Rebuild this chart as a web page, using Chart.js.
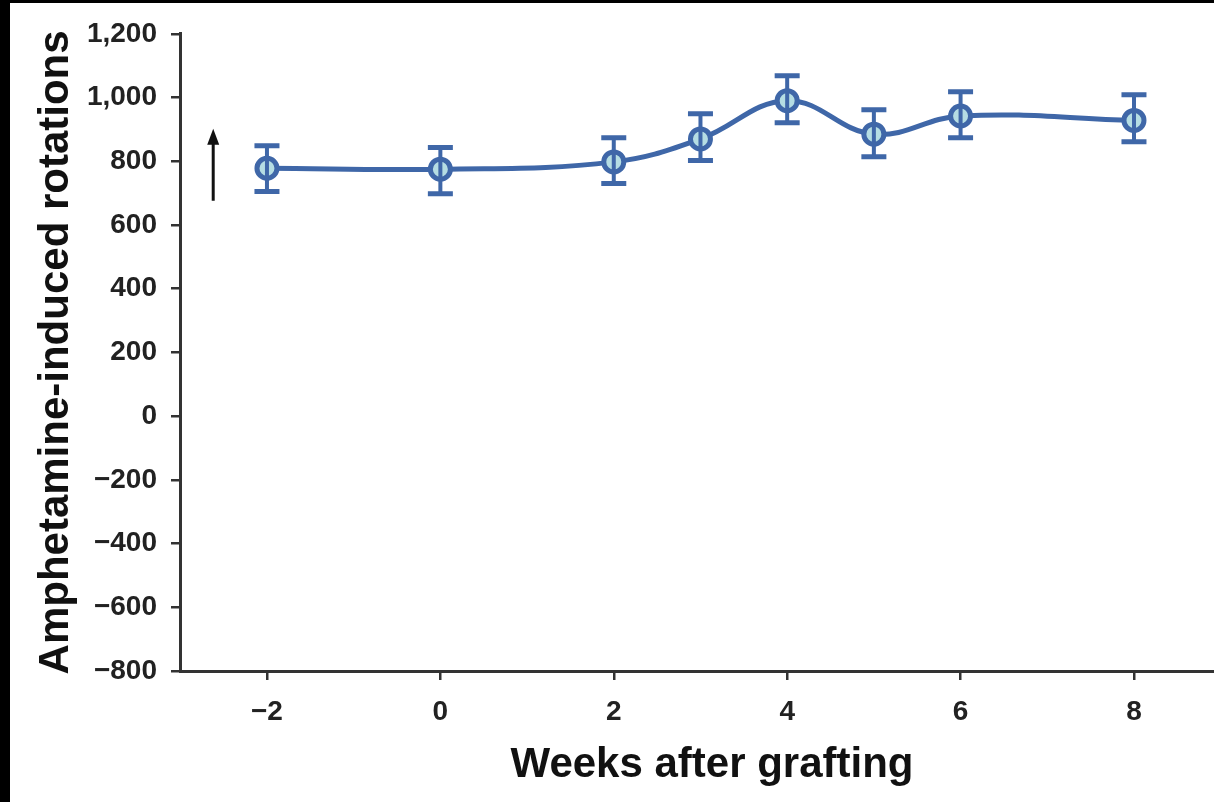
<!DOCTYPE html>
<html>
<head>
    <title>Amphetamine-induced rotations</title>
    <script src="https://cdn.jsdelivr.net/npm/chart.js"></script>
    <style>
        html, body { margin: 0; padding: 0; background: #000; overflow: hidden; }
        #wrap { position: absolute; left: 10px; top: 3px; width: 1249px; height: 799px; background: #fff; }
    </style>
</head>
<body>
    <div id="wrap"><canvas id="rotChart" width="1249" height="799"></canvas></div>

    <script>
        // values
        const weeks = [-2, 0, 2, 3, 4, 5, 6, 8];
        const rotations = [778, 775, 798, 870, 990, 885, 942, 928];
        const upperErr = [849, 843, 874, 949, 1068, 962, 1018, 1009];
        const lowerErr = [705, 698, 730, 802, 921, 814, 874, 861];
        const xTicks = [-2, 0, 2, 4, 6, 8];
        const yTicks = [-800, -600, -400, -200, 0, 200, 400, 600, 800, 1000, 1200];

        const blue = '#3f67a8';
        const axisColor = '#333';

        const fmt = v => (v < 0 ? '\u2212' : '') + Math.abs(v).toLocaleString('en-US');

        const errorBars = {
            id: 'errorBars',
            afterDatasetsDraw(chart) {
                const { ctx, scales: { x, y } } = chart;
                ctx.save();
                ctx.strokeStyle = blue;
                weeks.forEach((w, i) => {
                    const px = x.getPixelForValue(w);
                    const top = y.getPixelForValue(upperErr[i]);
                    const bot = y.getPixelForValue(lowerErr[i]);
                    ctx.lineWidth = 4;
                    ctx.beginPath();
                    ctx.moveTo(px, top);
                    ctx.lineTo(px, bot);
                    ctx.stroke();
                    ctx.lineWidth = 5;
                    ctx.beginPath();
                    ctx.moveTo(px - 12.5, top);
                    ctx.lineTo(px + 12.5, top);
                    ctx.moveTo(px - 12.5, bot);
                    ctx.lineTo(px + 12.5, bot);
                    ctx.stroke();
                });
                ctx.restore();
            }
        };

        // the arrow left of the first point
        const arrow = {
            id: 'arrow',
            afterDraw(chart) {
                const { ctx, scales: { x, y } } = chart;
                const px = x.getPixelForValue(-2.62);
                const y0 = y.getPixelForValue(676);
                const y1 = y.getPixelForValue(902);
                ctx.save();
                ctx.strokeStyle = '#111';
                ctx.fillStyle = '#111';
                ctx.lineWidth = 3;
                ctx.beginPath();
                ctx.moveTo(px, y0);
                ctx.lineTo(px, y1 + 12);
                ctx.stroke();
                ctx.beginPath();
                ctx.moveTo(px, y1);
                ctx.lineTo(px - 6, y1 + 16);
                ctx.lineTo(px + 6, y1 + 16);
                ctx.closePath();
                ctx.fill();
                ctx.restore();
            }
        };

        const ctx = document.getElementById('rotChart').getContext('2d');
        new Chart(ctx, {
            type: 'line',
            data: {
                datasets: [{
                    data: weeks.map((w, i) => ({ x: w, y: rotations[i] })),
                    borderColor: blue,
                    borderWidth: 5,
                    tension: 0.4,
                    pointRadius: 10,
                    pointBorderWidth: 5,
                    pointBorderColor: blue,
                    pointBackgroundColor: '#b5dde3',
                    fill: false
                }]
            },
            options: {
                responsive: false,
                devicePixelRatio: 1,
                animation: false,
                layout: { padding: { top: 30, left: 0, right: 0, bottom: 0 } },
                plugins: { legend: { display: false }, tooltip: { enabled: false } },
                scales: {
                    x: {
                        type: 'linear',
                        min: -3.003,
                        max: 9.269,
                        afterBuildTicks: s => { s.ticks = xTicks.map(v => ({ value: v })); },
                        afterFit: s => { s.height = 131; },
                        border: { color: axisColor, width: 3 },
                        grid: { drawOnChartArea: false, drawTicks: true, tickLength: 9, color: axisColor, lineWidth: 2.5 },
                        ticks: {
                            padding: 15,
                            color: '#222',
                            font: { family: 'Liberation Sans', size: 28, weight: 'bold' },
                            callback: fmt
                        },
                        title: {
                            display: true,
                            text: 'Weeks after grafting',
                            color: '#111',
                            padding: { top: 0, bottom: 11 },
                            font: { family: 'Liberation Sans', size: 42, weight: 'bold' }
                        }
                    },
                    y: {
                        min: -800,
                        max: 1200,
                        afterBuildTicks: s => { s.ticks = yTicks.map(v => ({ value: v })); },
                        afterFit: s => { s.width = 170; },
                        border: { color: axisColor, width: 3 },
                        grid: { drawOnChartArea: false, drawTicks: true, tickLength: 9, color: axisColor, lineWidth: 2.5 },
                        ticks: {
                            padding: 14,
                            color: '#222',
                            font: { family: 'Liberation Sans', size: 28, weight: 'bold' },
                            callback: fmt
                        },
                        title: {
                            display: true,
                            text: 'Amphetamine-induced rotations',
                            color: '#111',
                            padding: { top: 21, bottom: 0 },
                            font: { family: 'Liberation Sans', size: 42, weight: 'bold' }
                        }
                    }
                }
            },
            plugins: [errorBars, arrow]
        });
    </script>
</body>
</html>
